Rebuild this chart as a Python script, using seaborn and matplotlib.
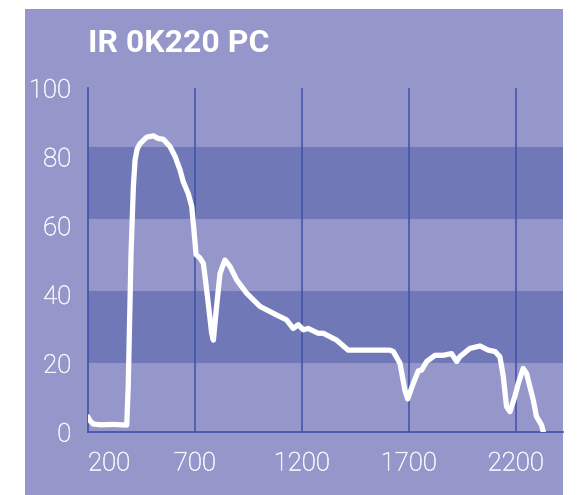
import numpy as np
import pandas as pd
import matplotlib.pyplot as plt
import matplotlib.patches as mpatches
import matplotlib.patheffects as pe
import seaborn as sns

# ── data ──────────────────────────────────────────────────────
wavelength = [200, 209, 225, 260, 320, 381, 388, 401, 412, 420, 430, 443,
              474, 505, 529, 552, 583, 607, 630, 645, 669, 685, 695, 705,
              723, 739, 747, 762, 778, 786, 801, 817, 840, 864, 895, 942,
              1004, 1082, 1128, 1159, 1183, 1206, 1229, 1276, 1300, 1362,
              1416, 1456, 1549, 1611, 1627, 1658, 1681, 1694, 1720, 1744,
              1759, 1783, 1822, 1860, 1899, 1923, 1938, 1985, 2032, 2071,
              2102, 2125, 2141, 2156, 2172, 2195, 2211, 2234, 2250, 2265,
              2281, 2296, 2320, 2328]
transmission = [4.4, 3.3, 2.3, 2.1, 2.2, 2.0, 13.2, 51.6, 71.3, 79.1, 82.3,
                83.8, 85.7, 86.1, 85.3, 85.1, 83.0, 80.1, 76.2, 72.8, 69.2,
                65.5, 58.8, 51.6, 50.6, 49.0, 45.2, 37.4, 28.7, 26.7, 36.5,
                46.1, 50.0, 48.1, 44.2, 40.3, 36.5, 34.0, 32.6, 30.1, 31.2,
                29.7, 30.1, 28.7, 28.7, 26.7, 23.8, 23.8, 23.8, 23.8, 23.4,
                20.0, 12.2, 9.6, 14.1, 17.8, 18.0, 20.5, 22.3, 22.3, 22.8,
                20.5, 21.9, 24.3, 25.0, 23.8, 23.4, 21.9, 16.1, 7.4, 5.9,
                10.3, 14.1, 18.5, 17.0, 13.2, 9.3, 4.5, 2.0, 0.0]

x_ticks = [200, 700, 1200, 1700, 2200]
y_ticks = [0, 20, 40, 60, 80, 100]
# the shaded bands in the source sit slightly off the tick values
dark_bands = [(20.1, 41.0), (61.9, 82.8)]
title = "IR 0K220 PC"

df = pd.DataFrame({"wavelength": wavelength, "transmission": transmission})

# ── style ─────────────────────────────────────────────────────
LIGHT = "#9596C9"
DARK = "#7078B8"
GRID = "#3F51A8"
TEXT = "#F4F4FA"

sns.set_style("white")
plt.rcParams["font.family"] = ["Roboto", "DejaVu Sans"]

fig = plt.figure(figsize=(5.79, 4.95), dpi=100)
fig.patch.set_facecolor("white")
bg = mpatches.Rectangle((25 / 579, 0), (563 - 25) / 579, 1 - 9 / 495,
                        transform=fig.transFigure, facecolor=LIGHT,
                        edgecolor="none", zorder=-5)
fig.patches.append(bg)

ax = fig.add_axes([88 / 579, 63 / 495, (563 - 88) / 579, (432 - 88) / 495])
ax.set_facecolor(LIGHT)
ax.set_zorder(1)

for lo, hi in dark_bands:
    ax.axhspan(lo, hi, color=DARK, lw=0, zorder=0)
for xv in x_ticks[1:]:
    ax.axvline(xv, color=GRID, lw=1.1, zorder=1)

sns.lineplot(data=df, x="wavelength", y="transmission", ax=ax,
             color="white", lw=3.8, zorder=3, solid_capstyle="round")

ax.set_xlim(200, 2420)
ax.set_ylim(0, 100)
ax.set_xticks(x_ticks)
ax.set_yticks(y_ticks)
ax.set_xlabel("")
ax.set_ylabel("")
ax.tick_params(length=0, labelsize=18.5, labelcolor=TEXT)
ax.tick_params(axis="x", pad=14)
ax.tick_params(axis="y", pad=12)
# light weight, thickened a touch so it reads like the reference
for lab in ax.get_xticklabels() + ax.get_yticklabels():
    lab.set_fontweight("light")
    lab.set_path_effects([pe.withStroke(linewidth=0.45, foreground=TEXT)])
ax.get_xticklabels()[0].set_horizontalalignment("left")

for side in ["top", "right"]:
    ax.spines[side].set_visible(False)
for side in ["left", "bottom"]:
    ax.spines[side].set_color(GRID)
    ax.spines[side].set_linewidth(1.2)

fig.text(88 / 579, 1 - 43 / 495, title, ha="left", va="center",
         fontsize=23, fontweight="bold", color="white")

fig.savefig("out.png", dpi=100)
